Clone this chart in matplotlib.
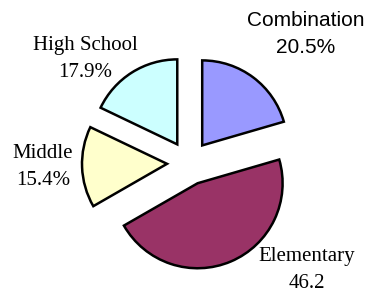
import matplotlib
matplotlib.use("Agg")
import matplotlib.pyplot as plt

# school types, clockwise from 12 o'clock
names = ["Combination", "Elementary", "Middle", "High School"]
shares = [20.5, 46.2, 15.4, 17.9]
share_text = ["20.5%", "46.2", "15.4%", "17.9%"]
colors = ["#9999FF", "#993366", "#FFFFCC", "#CCFFFF"]

fig = plt.figure(figsize=(3.67, 2.93), dpi=100)
ax = fig.add_axes([0, 0, 1, 1])

# explode is in data units here (not scaled by radius)
ax.pie(shares, colors=colors, startangle=90, counterclock=False,
       explode=[22] * 4, radius=85, center=(189, 130),
       wedgeprops=dict(edgecolor="black", linewidth=1.8))

# pie resets the limits, so set them afterwards
ax.set_xlim(0, 367)
ax.set_ylim(0, 293)
ax.set_aspect("equal")
ax.axis("off")

# label spots (pixels, y measured from bottom)
spots = [(306, 259), (307, 23), (43, 126), (85, 234)]
for i in range(len(names)):
    fam = "Liberation Sans" if i == 0 else "Liberation Serif"
    ax.text(spots[i][0], spots[i][1], names[i] + "\n" + share_text[i],
            ha="center", va="center", fontsize=15, family=fam,
            linespacing=1.55)

fig.savefig("out.png", dpi=100)
